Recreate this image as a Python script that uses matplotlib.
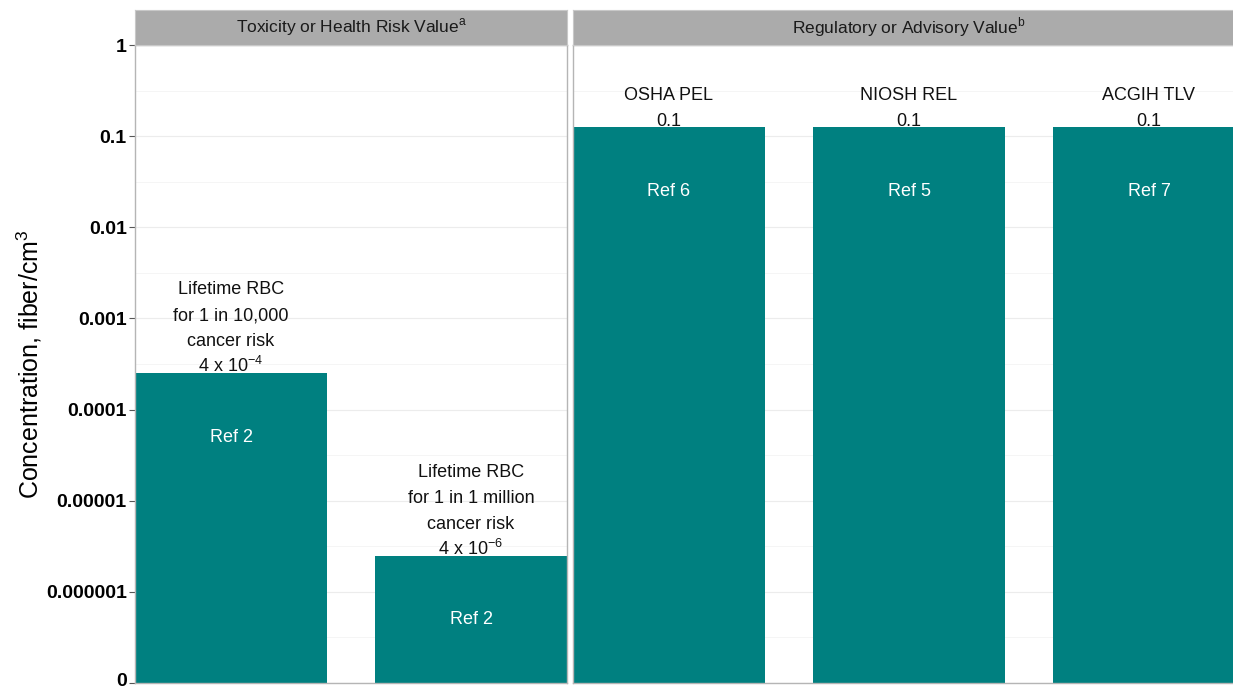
import matplotlib
matplotlib.use('Agg')
import matplotlib.pyplot as plt
import matplotlib.transforms as mtransforms
import numpy as np

plt.rcParams['font.family'] = ['Liberation Sans', 'DejaVu Sans']
plt.rcParams['mathtext.fontset'] = 'custom'
plt.rcParams['mathtext.rm'] = 'Liberation Sans'

# data
facet_titles = ['Toxicity or Health Risk Value$^{\\mathrm{a}}$',
                'Regulatory or Advisory Value$^{\\mathrm{b}}$']
tox_labels = [['Lifetime RBC', 'for 1 in 10,000', 'cancer risk', '4 x 10$^{-4}$'],
              ['Lifetime RBC', 'for 1 in 1 million', 'cancer risk', '4 x 10$^{-6}$']]
tox_values = [0.00025, 0.0000025]
tox_refs = ['Ref 2', 'Ref 2']
reg_labels = [['OSHA PEL', '0.1'], ['NIOSH REL', '0.1'], ['ACGIH TLV', '0.1']]
reg_values = [0.125, 0.125, 0.125]
reg_refs = ['Ref 6', 'Ref 5', 'Ref 7']

y_ticks = [1e-7, 1e-6, 1e-5, 1e-4, 1e-3, 1e-2, 1e-1, 1]
y_ticklabels = ['0', '0.000001', '0.00001', '0.0001', '0.001', '0.01', '0.1', '1']

teal = '#008080'
W, H = 1233, 690
fig = plt.figure(figsize=(W / 100, H / 100), dpi=100)

def panel(left_px, n, labels, values, refs, title, first):
    width_px = 240 * (n - 0.2)
    ax = fig.add_axes([left_px / W, 7 / H, width_px / W, 638 / H])
    x = np.arange(n)
    ax.set_yscale('log')
    ax.set_ylim(1e-7, 1)
    ax.set_xlim(-0.4, n - 0.6)
    for y in y_ticks:
        ax.axhline(y, color='#ececec', lw=0.8, zorder=0)
    for k in range(-7, 0):
        ax.axhline(10 ** (k + 0.5), color='#f4f4f4', lw=0.6, zorder=0)
    ax.bar(x, np.array(values) - 1e-7, bottom=1e-7, width=0.8, color=teal, zorder=2)
    for xi, v, lines, ref in zip(x, values, labels, refs):
        # stack the label lines upward from the bar top
        for j, line in enumerate(reversed(lines)):
            ax.annotate(line, (xi, v), xytext=(0, 1 + 26 * j), textcoords='offset pixels',
                        ha='center', va='baseline', fontsize=13,
                        color='#111111', zorder=3)
        ax.annotate(ref, (xi, v), xytext=(0, -64), textcoords='offset pixels',
                    ha='center', va='center', fontsize=13, color='white', zorder=3)
    ax.set_xticks([])
    ax.minorticks_off()
    if first:
        ax.set_yticks(y_ticks)
        ax.set_yticklabels(y_ticklabels, fontweight='bold', fontsize=14)
        ax.tick_params(axis='y', length=4, color='#555555', pad=2)
        # keep the "0" label inside the picture
        lab0 = ax.get_yticklabels()[0]
        lab0.set_transform(lab0.get_transform() +
                           mtransforms.ScaledTranslation(0, 3 / 100, fig.dpi_scale_trans))
        ax.set_ylabel('Concentration, fiber/cm$^{3}$', fontsize=18)
        ax.yaxis.set_label_coords((44 - left_px) / width_px, 0.5)
    else:
        ax.set_yticks([])
    for s in ax.spines.values():
        s.set_color('#b5b5b5')
        s.set_linewidth(1.0)
    # facet strip
    sax = fig.add_axes([left_px / W, (690 - 45) / H, width_px / W, 35 / H])
    sax.set_facecolor('#ababab')
    sax.set_xticks([])
    sax.set_yticks([])
    for s in sax.spines.values():
        s.set_color('#c8c8c8')
    sax.text(0.5, 0.5, title, ha='center', va='center', fontsize=12.5,
             color='#1a1a1a', transform=sax.transAxes)
    return ax

panel(135, 2, tox_labels, tox_values, tox_refs, facet_titles[0], True)
panel(573, 3, reg_labels, reg_values, reg_refs, facet_titles[1], False)

fig.savefig('out.png', dpi=100)
